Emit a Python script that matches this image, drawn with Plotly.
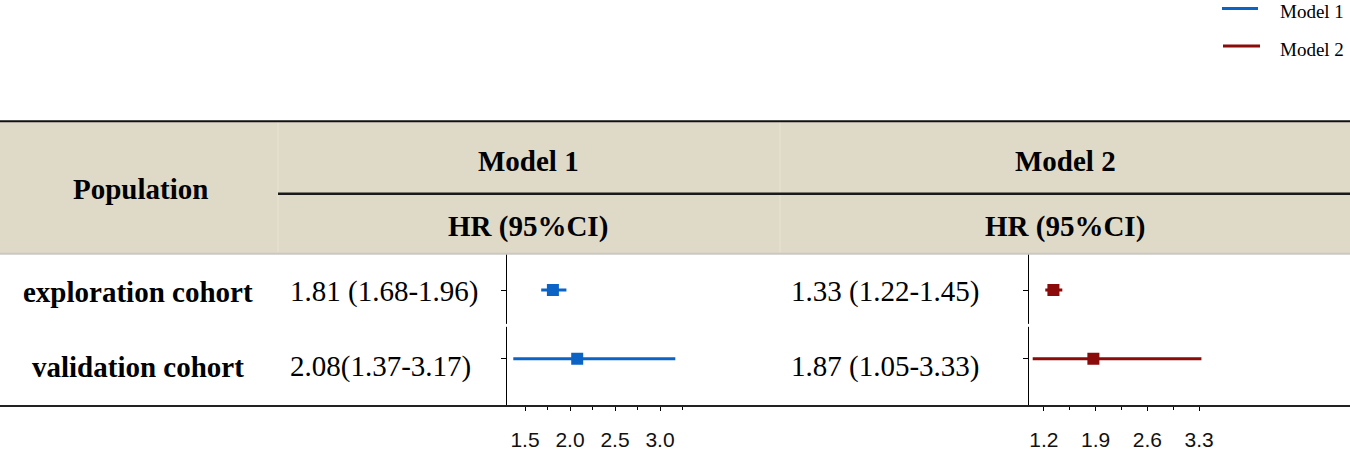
import plotly.graph_objects as go

# ---------------- data ----------------
populations = ["exploration cohort", "validation cohort"]
row_pos = [2, 1]

m1_hr = [1.81, 2.08]
m1_lo = [1.68, 1.37]
m1_hi = [1.96, 3.17]
m1_labels = ["1.81 (1.68-1.96)", "2.08(1.37-3.17)"]

m2_hr = [1.33, 1.87]
m2_lo = [1.22, 1.05]
m2_hi = [1.45, 3.33]
m2_labels = ["1.33 (1.22-1.45)", "1.87 (1.05-3.33)"]

m1_ticks = [1.5, 2.0, 2.5, 3.0]
m1_ticktext = ["1.5", "2.0", "2.5", "3.0"]
m1_minor = [1.75, 2.25, 2.75, 3.25]
m2_ticks = [1.2, 1.9, 2.6, 3.3]
m2_ticktext = ["1.2", "1.9", "2.6", "3.3"]
m2_minor = [1.55, 2.25, 2.95]

header_cols = ["Model 1", "Model 2"]
sub_header = "HR (95%CI)"
first_col = "Population"

# ---------------- style ----------------
W, H = 1350, 451
BLUE = "#0B63C5"
RED = "#8B0A0A"
BEIGE = "#DFD9C7"
SERIF = "Liberation Serif, Times New Roman, serif"
SANS = "Liberation Sans, Arial, sans-serif"


def px(x):
    return x / W


def py(y):
    return 1 - y / H


fig = go.Figure()


def add_model(hr, lo, hi, color, name, xa, ya):
    fig.add_trace(go.Scatter(
        x=hr, y=row_pos, mode="markers", name=name,
        marker=dict(symbol="square", size=12, color=color),
        error_x=dict(type="data", symmetric=False,
                     array=[h - m for h, m in zip(hi, hr)],
                     arrayminus=[m - l for m, l in zip(hr, lo)],
                     color=color, thickness=3, width=0),
        xaxis=xa, yaxis=ya, showlegend=False, hoverinfo="skip",
    ))


add_model(m1_hr, m1_lo, m1_hi, BLUE, "Model 1", "x", "y")
add_model(m2_hr, m2_lo, m2_hi, RED, "Model 2", "x2", "y2")

xcommon = dict(showgrid=False, zeroline=False, showline=False,
               ticks="outside", ticklen=5, tickcolor="#000", tickwidth=1,
               tickfont=dict(family=SANS, size=21, color="#111"),
               ticklabelstandoff=10)
ycommon = dict(showgrid=False, zeroline=False, showline=True,
               linecolor="#000", linewidth=1, ticks="outside", ticklen=5,
               tickcolor="#000", tickvals=row_pos, showticklabels=False,
               range=[0.319, 2.522], domain=[py(410), py(257)])

fig.update_layout(
    width=W, height=H, margin=dict(l=0, r=0, t=0, b=0),
    paper_bgcolor="white", plot_bgcolor="white", showlegend=False,
    xaxis=dict(domain=[px(507), px(780)], range=[1.3, 1.3 + 273 / 90],
               tickvals=m1_ticks, ticktext=m1_ticktext, anchor="y",
               minor=dict(tickvals=m1_minor, ticks="outside", ticklen=4,
                          tickcolor="#000"),
               **xcommon),
    yaxis=dict(anchor="x", **ycommon),
    xaxis2=dict(domain=[px(1029), 1.0], range=[1.0, 1.0 + 321 / 74],
                tickvals=m2_ticks, ticktext=m2_ticktext, anchor="y2",
                minor=dict(tickvals=m2_minor, ticks="outside", ticklen=4,
                           tickcolor="#000"),
                **xcommon),
    yaxis2=dict(anchor="x2", **ycommon),
)

shapes = []
# header background
shapes.append(dict(type="rect", xref="paper", yref="paper", x0=0, x1=1,
                   y0=py(256), y1=py(123), fillcolor=BEIGE, line_width=0,
                   layer="below"))
# faint column separators in header
for xv in (278, 780):
    shapes.append(dict(type="line", xref="paper", yref="paper",
                       x0=px(xv), x1=px(xv), y0=py(255), y1=py(123),
                       line=dict(color="#E7E3D6", width=1)))
# top rule
shapes.append(dict(type="line", xref="paper", yref="paper", x0=0, x1=1,
                   y0=py(122.5), y1=py(122.5), line=dict(color="#111", width=2)))
# header bottom grey rule
shapes.append(dict(type="line", xref="paper", yref="paper", x0=0, x1=1,
                   y0=py(256.5), y1=py(256.5), line=dict(color="#C8C8C4", width=2)))
# separator under model names
shapes.append(dict(type="line", xref="paper", yref="paper", x0=px(278), x1=1,
                   y0=py(196), y1=py(196), line=dict(color="#1A1A1A", width=2.5)))
# bottom rule
shapes.append(dict(type="line", xref="paper", yref="paper", x0=0, x1=1,
                   y0=py(410.5), y1=py(410.5), line=dict(color="#222", width=2)))
# small gaps in the vertical axis lines between rows
for xv in (507, 1029):
    shapes.append(dict(type="rect", xref="paper", yref="paper",
                       x0=px(xv - 2), x1=px(xv + 2), y0=py(330.5), y1=py(327.5),
                       fillcolor="white", line_width=0, layer="above"))
# legend lines
shapes.append(dict(type="line", xref="paper", yref="paper",
                   x0=px(1222), x1=px(1258), y0=py(8.5), y1=py(8.5),
                   line=dict(color=BLUE, width=3)))
shapes.append(dict(type="line", xref="paper", yref="paper",
                   x0=px(1223), x1=px(1260), y0=py(46.5), y1=py(46.5),
                   line=dict(color=RED, width=3)))
fig.update_layout(shapes=shapes)

ann = []


def txt(x, y, s, size=29, bold=False, anchor="center", family=SERIF,
        yanchor="middle"):
    ann.append(dict(x=px(x), y=py(y), xref="paper", yref="paper",
                    text=f"<b>{s}</b>" if bold else s, showarrow=False,
                    xanchor=anchor, yanchor=yanchor, borderpad=0,
                    font=dict(family=family, size=size, color="#000")))


# header
txt(140, 191, first_col, bold=True)
txt(528, 163, header_cols[0], bold=True)
txt(1065, 163, header_cols[1], bold=True)
txt(528, 229, sub_header, bold=True)
txt(1065, 229, sub_header, bold=True)

# rows
row_y = [295, 371]
for i, p in enumerate(populations):
    txt(138, row_y[i], p, bold=True)
    txt(289, row_y[i], m1_labels[i], anchor="left")
    txt(790, row_y[i], m2_labels[i], anchor="left")

# legend text
txt(1279, 0, header_cols[0], size=19, anchor="left", yanchor="top")
txt(1279, 38, header_cols[1], size=19, anchor="left", yanchor="top")

fig.update_layout(annotations=ann)

fig.write_html(
    "out.html",
    config={"displayModeBar": False},
    post_script=(
        "document.documentElement.style.margin='0';"
        "document.documentElement.style.overflow='hidden';"
        "document.body.style.margin='0';"
        "document.body.style.overflow='hidden';"
    ),
)
